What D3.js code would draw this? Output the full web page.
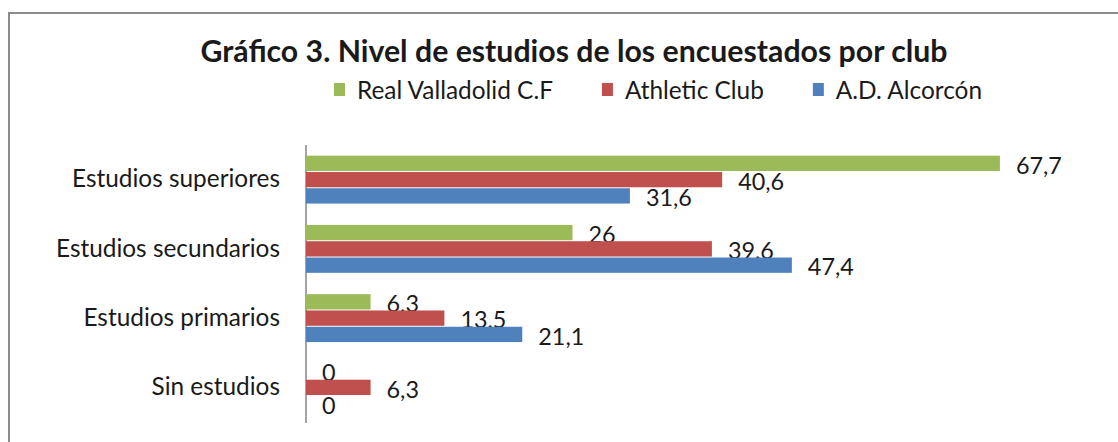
<!DOCTYPE html>
<html>
<head>
<meta charset="utf-8">
<script src="https://cdn.jsdelivr.net/npm/d3@7"></script>
<style>
  html, body { margin: 0; padding: 0; background: #fff; }
  svg text { font-family: Lato, "Open Sans", sans-serif; fill: #1a1a1a; }
</style>
</head>
<body>
<div id="chart"></div>
<script>
const categories = ['Estudios superiores', 'Estudios secundarios', 'Estudios primarios', 'Sin estudios'];
const seriesNames = ['Real Valladolid C.F', 'Athletic Club', 'A.D. Alcorcón'];
const valladolid = [67.7, 26, 6.3, 0];
const athletic = [40.6, 39.6, 13.5, 6.3];
const alcorcon = [31.6, 47.4, 21.1, 0];
const colors = ['#9bbb59', '#c0504d', '#4f81bd'];

const W = 1118, H = 442;
const seriesValues = [valladolid, athletic, alcorcon];

const svg = d3.select('#chart').append('svg')
  .attr('width', W)
  .attr('height', H);

// chart area border (runs off the right and bottom edge)
svg.append('rect')
  .attr('x', 9).attr('y', 13)
  .attr('width', W + 20).attr('height', H + 20)
  .attr('fill', '#fff')
  .attr('stroke', '#8c8c8c')
  .attr('stroke-width', 2);

// font size that makes a text span a given width
function fitSize(node, fs, target) {
  return fs * target / node.getComputedTextLength();
}

// title
const title = svg.append('text')
  .attr('x', 574).attr('y', 62)
  .attr('text-anchor', 'middle')
  .attr('font-size', 24)
  .attr('font-weight', 'bold')
  .text('Gráfico 3. Nivel de estudios de los encuestados por club');
title.attr('font-size', fitSize(title.node(), 24, 747).toFixed(2));

// legend
const legendFs = (() => {
  const t = svg.append('text').attr('font-size', 20).text(seriesNames[0]);
  const s = fitSize(t.node(), 20, 196);
  t.remove();
  return s;
})();
let lx = 334;
seriesNames.forEach((name, i) => {
  svg.append('rect')
    .attr('x', lx).attr('y', 83)
    .attr('width', 11).attr('height', 13)
    .attr('fill', colors[i]);
  const t = svg.append('text')
    .attr('x', lx + 23).attr('y', 90)
    .attr('dy', '0.35em')
    .attr('font-size', legendFs.toFixed(2))
    .text(name);
  lx = lx + 23 + t.node().getComputedTextLength() + 49;
});

// scales
const x = d3.scaleLinear().domain([0, 80]).range([306, 1126]);
const y = d3.scaleBand().domain(categories).range([145, 422])
  .paddingInner(0.28).paddingOuter(0.14);
const ySub = d3.scaleBand().domain(d3.range(seriesNames.length))
  .range([0, y.bandwidth()]).padding(0.06);

// category axis
const yAxis = svg.append('g')
  .attr('transform', 'translate(306,0)')
  .call(d3.axisLeft(y).tickSize(0).tickPadding(26));
yAxis.select('.domain').attr('stroke', '#868686').attr('stroke-width', 1.5)
  .attr('d', 'M0,145V423');
yAxis.selectAll('.tick text')
  .attr('font-size', 21)
  .attr('fill', '#1a1a1a')
  .attr('font-family', 'Lato, "Open Sans", sans-serif');
const longest = yAxis.selectAll('.tick text').filter(d => d === 'Estudios secundarios');
yAxis.selectAll('.tick text').attr('font-size', fitSize(longest.node(), 21, 224).toFixed(2));

// data label size, from the widest label
const labelFs = (() => {
  const t = svg.append('text').attr('font-size', 21).text('67,7');
  const s = fitSize(t.node(), 21, 46);
  t.remove();
  return s;
})();

// bars
const groups = svg.selectAll('.grp')
  .data(seriesValues)
  .enter()
  .append('g')
  .attr('class', 'grp');

groups.each(function(vals, si) {
  const g = d3.select(this);
  g.selectAll('rect')
    .data(vals.map((v, ci) => ({ v: v, cat: categories[ci] })))
    .enter()
    .append('rect')
    .attr('x', x(0))
    .attr('y', d => y(d.cat) + ySub(si))
    .attr('width', d => x(d.v) - x(0))
    .attr('height', ySub.bandwidth())
    .attr('fill', colors[si]);

  g.selectAll('text')
    .data(vals.map((v, ci) => ({ v: v, cat: categories[ci] })))
    .enter()
    .append('text')
    .attr('x', d => x(d.v) + 16)
    .attr('y', d => y(d.cat) + ySub(si) + ySub.bandwidth() / 2 + 2)
    .attr('dy', '0.35em')
    .attr('font-size', labelFs.toFixed(2))
    .text(d => String(d.v).replace('.', ','));
});
</script>
</body>
</html>
